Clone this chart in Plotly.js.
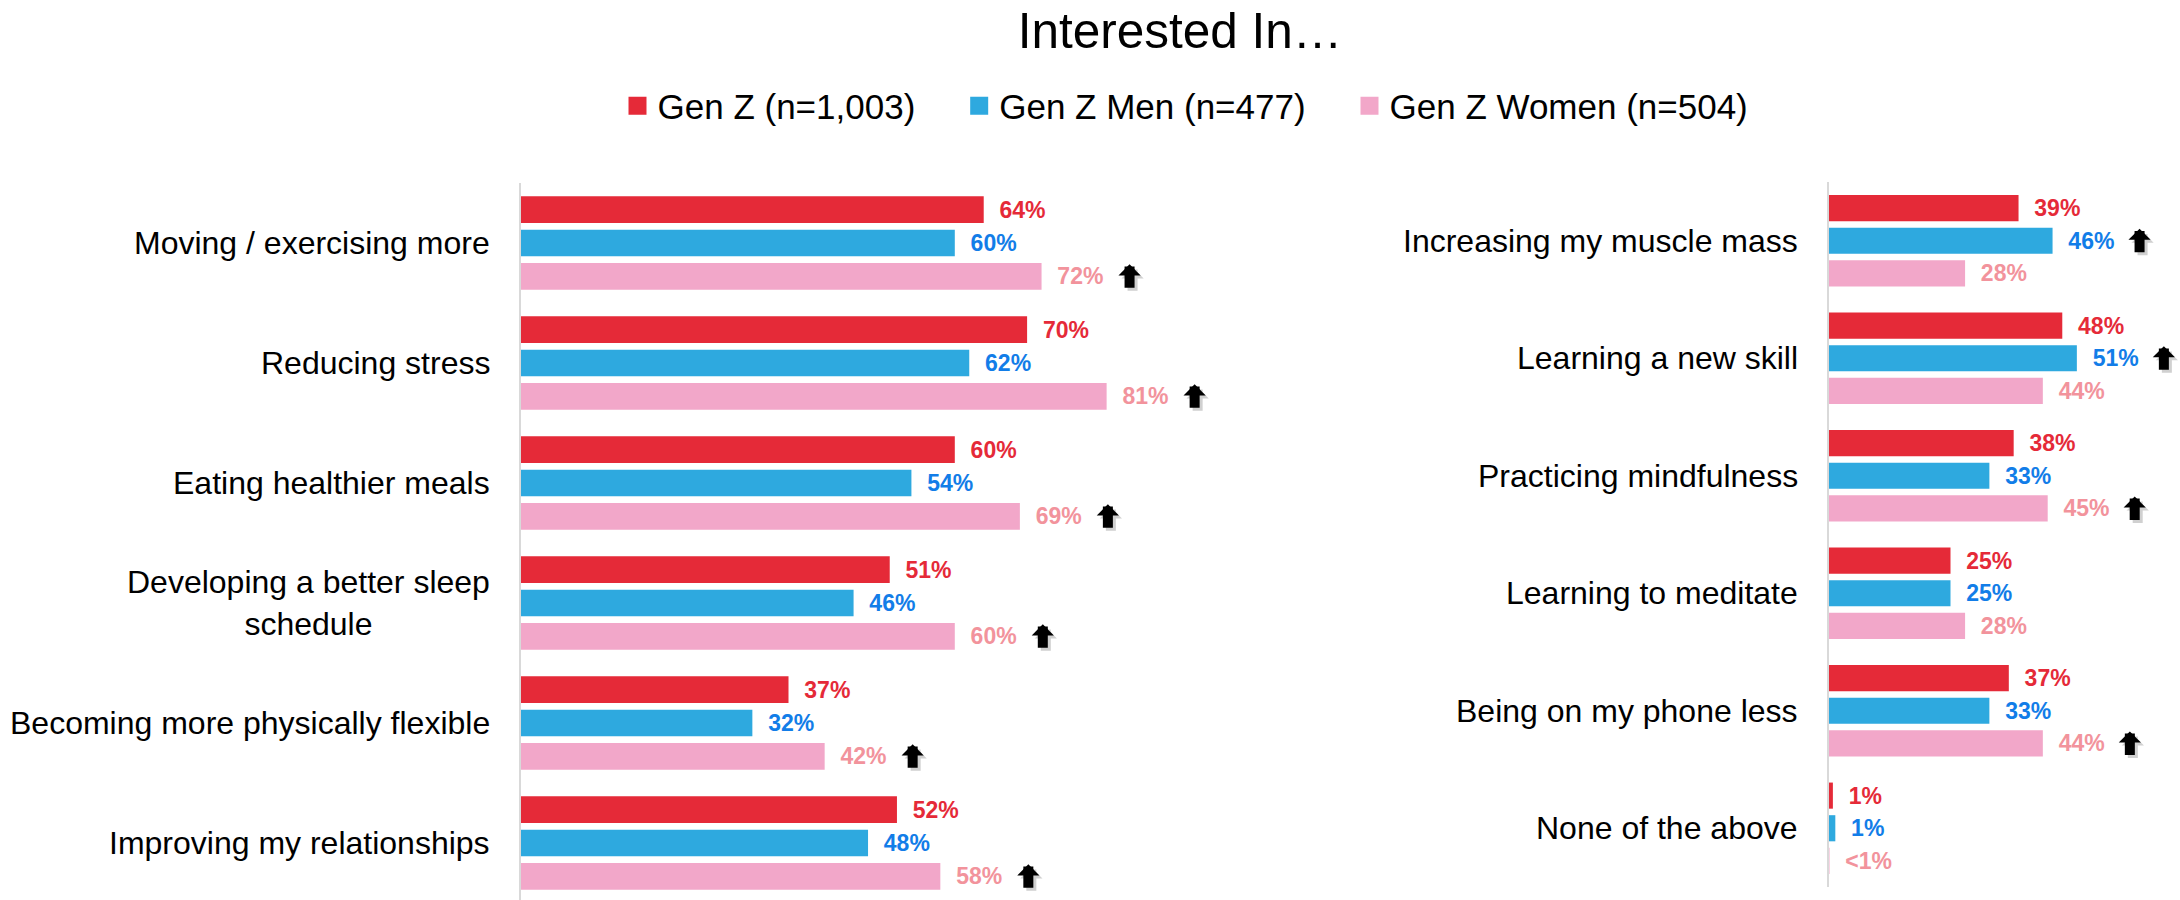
<!DOCTYPE html>
<html>
<head>
<meta charset="utf-8">
<script src="https://cdn.plot.ly/plotly-3.0.1.min.js"></script>
<style>html,body{margin:0;padding:0;background:#fff}</style>
</head>
<body>
<div id="chart" style="width:2180px;height:900px"></div>
<script>
// ---------- data ----------
const seriesNames = ['Gen Z (n=1,003)', 'Gen Z Men (n=477)', 'Gen Z Women (n=504)'];

const leftCategories = ['Moving / exercising more', 'Reducing stress', 'Eating healthier meals',
  'Developing a better sleep<br>schedule', 'Becoming more physically flexible', 'Improving my relationships'];
const leftGenZ  = [64, 70, 60, 51, 37, 52];
const leftMen   = [60, 62, 54, 46, 32, 48];
const leftWomen = [72, 81, 69, 60, 42, 58];
const leftGenZLabels  = ['64%', '70%', '60%', '51%', '37%', '52%'];
const leftMenLabels   = ['60%', '62%', '54%', '46%', '32%', '48%'];
const leftWomenLabels = ['72%', '81%', '69%', '60%', '42%', '58%'];
const leftArrowGenZ  = [0, 0, 0, 0, 0, 0];
const leftArrowMen   = [0, 0, 0, 0, 0, 0];
const leftArrowWomen = [1, 1, 1, 1, 1, 1];

const rightCategories = ['Increasing my muscle mass', 'Learning a new skill', 'Practicing mindfulness',
  'Learning to meditate', 'Being on my phone less', 'None of the above'];
const rightGenZ  = [39, 48, 38, 25, 37, 0.8];
const rightMen   = [46, 51, 33, 25, 33, 1.3];
const rightWomen = [28, 44, 45, 28, 44, 0.1];
const rightGenZLabels  = ['39%', '48%', '38%', '25%', '37%', '1%'];
const rightMenLabels   = ['46%', '51%', '33%', '25%', '33%', '1%'];
const rightWomenLabels = ['28%', '44%', '45%', '28%', '44%', '<1%'];
const rightArrowGenZ  = [0, 0, 0, 0, 0, 0];
const rightArrowMen   = [1, 1, 0, 0, 0, 0];
const rightArrowWomen = [0, 0, 1, 0, 1, 0];

// ---------- styling ----------
const FONT = 'Liberation Sans, Arial, Helvetica, sans-serif';
const barColors  = ['#E52A38', '#2EA9DF', '#F2A7C9'];
const textColors = ['#E52A38', '#127DE8', '#F2939C'];
const W = 2180, H = 900;
const BARGAP = 0.1667, BARGROUPGAP = 0.2;

// geometry (pixels)
const L = {x0: 521, x1: 1300, pxPer: 7.23, yTop: 183, yBot: 900, r0: -0.5, r1: 5.475};
const R = {x0: 1829, x1: 2180, pxPer: 4.86, yTop: 182, yBot: 887, r0: -0.5, r1: 5.5};

const traces = [];
const annotations = [];

function addArrow(xa, ya, x, y, xs, ys, color) {
  annotations.push({
    xref: xa, yref: ya, x: x, y: y, xshift: xs, yshift: ys,
    text: '', showarrow: true, axref: 'pixel', ayref: 'pixel', ax: 0, ay: 25,
    arrowhead: 1, arrowsize: 0.37, arrowwidth: 10, arrowcolor: color, standoff: 0
  });
}

function addPanel(cats, series, labels, arrows, xa, ya, P, arrowShift) {
  const idx = cats.map((_, i) => i);
  series.forEach((vals, s) => {
    traces.push({
      type: 'bar', orientation: 'h', x: vals, y: idx, xaxis: xa, yaxis: ya,
      name: seriesNames[s], showlegend: false,
      marker: {color: barColors[s]},
      text: labels[s], texttemplate: '\u00a0\u00a0%{text}', textposition: 'outside',
      outsidetextfont: {family: FONT, size: 23, color: textColors[s], weight: 'bold'},
      constraintext: 'none', cliponaxis: false, hoverinfo: 'skip'
    });
  });
  cats.forEach((c, i) => {
    annotations.push({
      xref: xa + ' domain', x: 0, xshift: -29, xanchor: 'right',
      yref: ya, y: i, yanchor: 'middle', text: c, showarrow: false, align: 'center',
      font: {family: FONT, size: 32, color: '#000'}
    });
  });
  const pitch = (P.yBot - P.yTop) / (P.r1 - P.r0);
  const slot = pitch * (1 - BARGAP) / 3;
  arrows.forEach((flags, s) => {
    flags.forEach((f, i) => {
      if (!f) return;
      const ys = (1 - s) * slot + 12;
      addArrow(xa, ya, series[s][i], i, arrowShift + 3, ys - 3, 'rgba(0,0,0,0.18)');
      addArrow(xa, ya, series[s][i], i, arrowShift, ys, '#000');
    });
  });
}

addPanel(leftCategories, [leftGenZ, leftMen, leftWomen],
  [leftGenZLabels, leftMenLabels, leftWomenLabels],
  [leftArrowGenZ, leftArrowMen, leftArrowWomen], 'x', 'y', L, 88);
addPanel(rightCategories, [rightGenZ, rightMen, rightWomen],
  [rightGenZLabels, rightMenLabels, rightWomenLabels],
  [rightArrowGenZ, rightArrowMen, rightArrowWomen], 'x2', 'y2', R, 87);

// legend-only entries
const NBSP = '\u00a0'.repeat(4);
seriesNames.forEach((n, s) => {
  traces.push({
    type: 'scatter', mode: 'markers', x: [null], y: [null], xaxis: 'x', yaxis: 'y',
    name: n + NBSP, showlegend: true, hoverinfo: 'skip',
    marker: {symbol: 'square', size: 16, color: barColors[s], line: {width: 2, color: barColors[s]}}
  });
});

function yAxis(P, anchor) {
  return {
    domain: [1 - P.yBot / H, 1 - P.yTop / H], range: [P.r1, P.r0], anchor: anchor,
    showticklabels: false, showgrid: false, zeroline: false, ticks: '',
    showline: true, linecolor: '#D9D9D9', linewidth: 2, fixedrange: true
  };
}
function xAxis(P, anchor) {
  return {
    domain: [P.x0 / W, P.x1 / W], range: [0, (P.x1 - P.x0) / P.pxPer], anchor: anchor,
    visible: false, fixedrange: true
  };
}

const layout = {
  width: W, height: H, margin: {l: 0, r: 0, t: 0, b: 0},
  paper_bgcolor: '#fff', plot_bgcolor: 'rgba(0,0,0,0)',
  barmode: 'group', bargap: BARGAP, bargroupgap: BARGROUPGAP,
  title: {text: 'Interested In\u2026', font: {family: FONT, size: 49.5, color: '#000'},
    xref: 'paper', x: 1180 / W, xanchor: 'center', yref: 'container', y: 1 - 31 / H, yanchor: 'middle'},
  showlegend: true,
  legend: {orientation: 'h', x: 1205 / W, xanchor: 'center', y: 1 - 106 / H, yanchor: 'middle',
    font: {family: FONT, size: 35, color: '#000'}, bgcolor: 'rgba(0,0,0,0)', traceorder: 'normal'},
  xaxis: xAxis(L, 'y'), yaxis: yAxis(L, 'x'),
  xaxis2: xAxis(R, 'y2'), yaxis2: yAxis(R, 'x2'),
  annotations: annotations
};

Plotly.newPlot('chart', traces, layout, {displayModeBar: false, staticPlot: true});
</script>
</body>
</html>
